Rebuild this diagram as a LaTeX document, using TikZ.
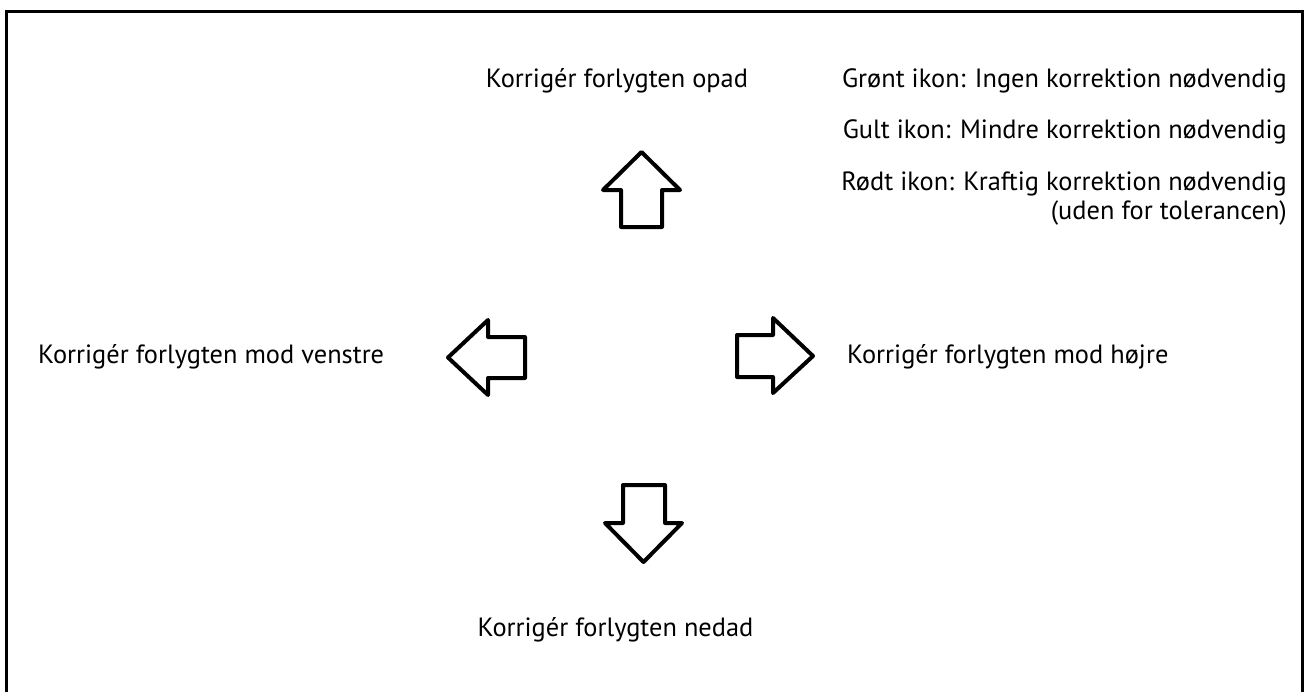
\documentclass[tikz,border=0pt]{standalone}
\usepackage{fontspec}
\setmainfont{PT Sans}
\begin{document}
\begin{tikzpicture}[x=1pt,y=-1pt,
  lbl/.style={inner sep=0pt,font=\fontsize{26.4}{30}\selectfont,text=black},
  arr/.style={draw=black,line width=4pt,line join=round,fill=white}]
\useasboundingbox (0,0) rectangle (1305,691);
\draw[line width=3pt] (6.5,700) -- (6.5,11.5) -- (1302.5,11.5) -- (1302.5,700);
% arrows
\draw[arr] (641.5,152) -- (680,190) -- (662,190) -- (662,227) -- (621,227) -- (621,190) -- (603,190) -- cycle;
\draw[arr] (448,357.5) -- (488,320) -- (488,337) -- (525,337) -- (525,378) -- (488,378) -- (488,395) -- cycle;
\draw[arr] (813,356) -- (773,318) -- (773,335) -- (737,335) -- (737,377) -- (773,377) -- (773,393) -- cycle;
\draw[arr] (643.5,562) -- (682,523) -- (665,523) -- (665,485) -- (623,485) -- (623,523) -- (605,523) -- cycle;
% labels
\node[lbl,anchor=base] (up) at (617,87) {Korrigér forlygten opad};
\node[lbl,anchor=base west] (left) at (38,363) {Korrigér forlygten mod venstre};
\node[lbl,anchor=base west] (right) at (847,363) {Korrigér forlygten mod højre};
\node[lbl,anchor=base] (down) at (615.5,636) {Korrigér forlygten nedad};
\node[lbl,anchor=base east] (l1) at (1287,87) {Grønt ikon: Ingen korrektion nødvendig};
\node[lbl,anchor=base east] (l2) at (1287,138) {Gult ikon: Mindre korrektion nødvendig};
\node[lbl,anchor=base east] (l3) at (1287,190) {Rødt ikon: Kraftig korrektion nødvendig};
\node[lbl,anchor=base east] (l4) at (1287,219) {(uden for tolerancen)};
\end{tikzpicture}
\end{document}
